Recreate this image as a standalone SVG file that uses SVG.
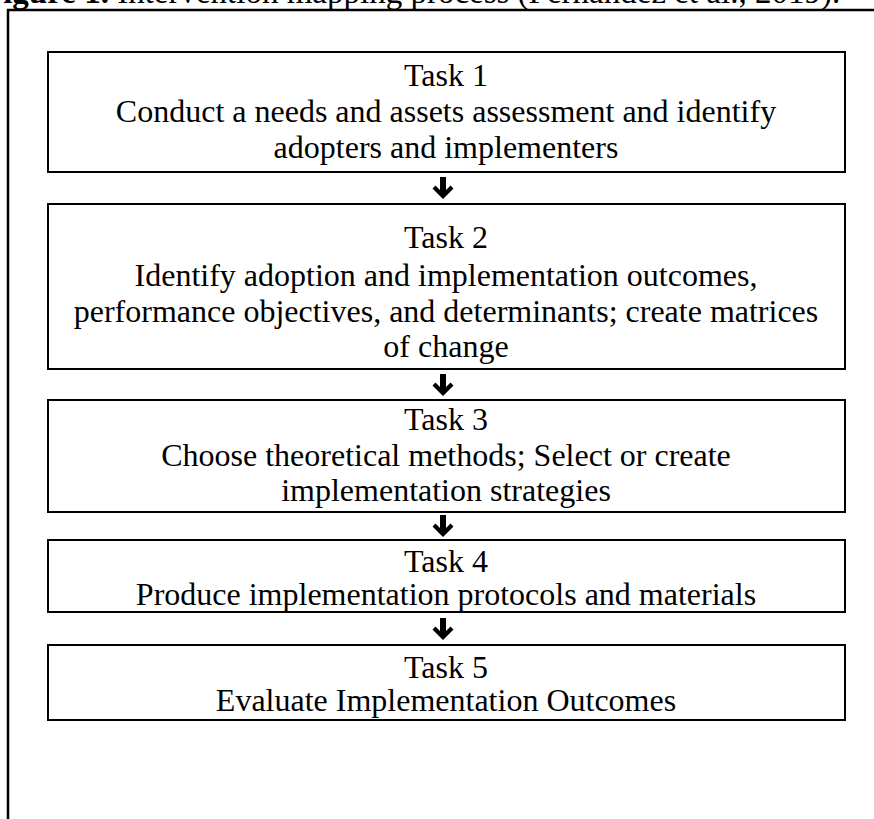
<svg xmlns="http://www.w3.org/2000/svg" width="874" height="819" viewBox="0 0 874 819">
<style>
  .t{font-family:"Liberation Serif","Times New Roman",serif;font-size:32px;fill:#000;text-anchor:middle}
  .title{font-family:"Liberation Serif","Times New Roman",serif;font-size:33px;fill:#000}
  .box{fill:#fff;stroke:#000;stroke-width:2}
  .arr{fill:#000}
</style>
<defs>
  <polygon id="darrow" points="-3,0 3,0 3,13 7.5,8.5 10.5,11.5 0,22 -10.5,11.5 -7.5,8.5 -3,13"/>
</defs>
<rect width="874" height="819" fill="#fff"/>
<text class="title" x="-17" y="3"><tspan font-weight="bold">Figure 1.</tspan> Intervention mapping process (Fernandez et al., 2019).</text>
<rect x="8" y="10" width="900" height="900" fill="none" stroke="#000" stroke-width="2.5"/>
<g id="task1">
  <rect class="box" x="48" y="52" width="797" height="120"/>
  <text class="t" x="446" y="86">Task 1</text>
  <text class="t" x="446" y="122">Conduct a needs and assets assessment and identify</text>
  <text class="t" x="446" y="158">adopters and implementers</text>
</g>
<g id="task2">
  <rect class="box" x="48" y="204" width="797" height="165"/>
  <text class="t" x="446" y="248">Task 2</text>
  <text class="t" x="446" y="286">Identify adoption and implementation outcomes,</text>
  <text class="t" x="446" y="322">performance objectives, and determinants; create matrices</text>
  <text class="t" x="446" y="357">of change</text>
</g>
<g id="task3">
  <rect class="box" x="48" y="400" width="797" height="112"/>
  <text class="t" x="446" y="430">Task 3</text>
  <text class="t" x="446" y="466">Choose theoretical methods; Select or create</text>
  <text class="t" x="446" y="501">implementation strategies</text>
</g>
<g id="task4">
  <rect class="box" x="48" y="540" width="797" height="72"/>
  <text class="t" x="446" y="572">Task 4</text>
  <text class="t" x="446" y="605">Produce implementation protocols and materials</text>
</g>
<g id="task5">
  <rect class="box" x="48" y="645" width="797" height="75"/>
  <text class="t" x="446" y="678">Task 5</text>
  <text class="t" x="446" y="711">Evaluate Implementation Outcomes</text>
</g>
<g id="connectors" class="arr">
  <use href="#darrow" x="443" y="177"/>
  <use href="#darrow" x="443" y="374"/>
  <use href="#darrow" x="443" y="515"/>
  <use href="#darrow" x="443" y="618"/>
</g>
</svg>
